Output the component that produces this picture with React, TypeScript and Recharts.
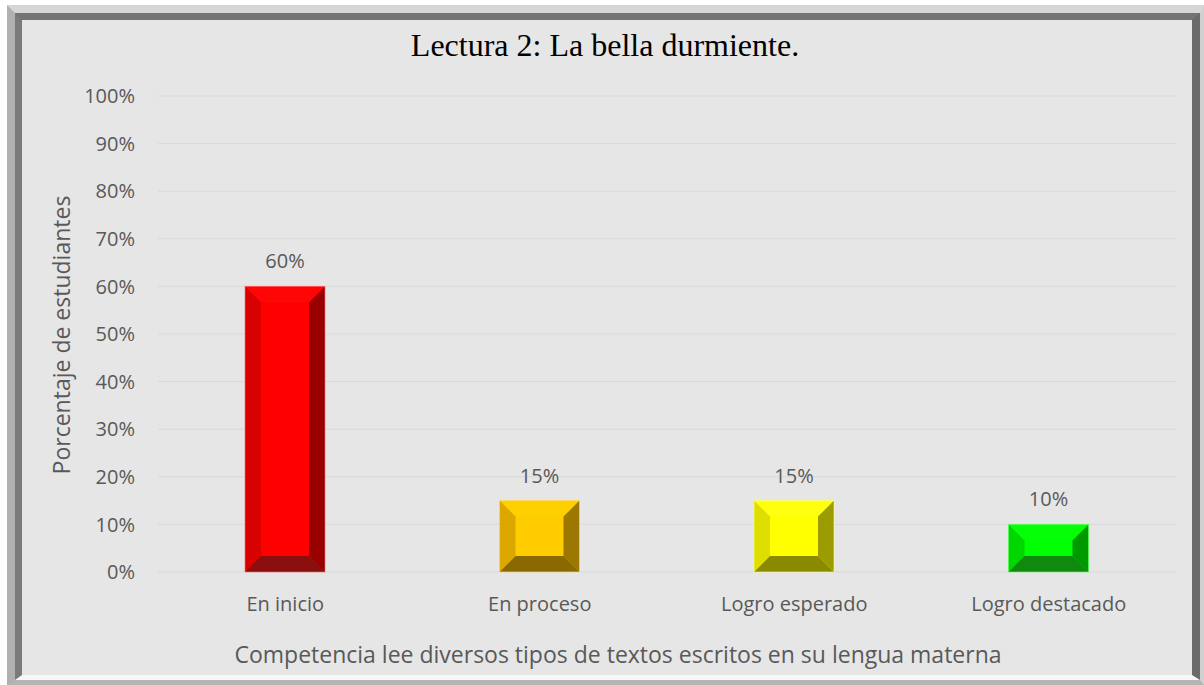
import React from 'react';
import { BarChart, Bar, XAxis, YAxis, CartesianGrid, LabelList } from 'recharts';

const categories = ['En inicio', 'En proceso', 'Logro esperado', 'Logro destacado'];
const percentages = [0.6, 0.15, 0.15, 0.1];
const yTicks = [0, 0.1, 0.2, 0.3, 0.4, 0.5, 0.6, 0.7, 0.8, 0.9, 1];

// colores de cada barra: cara, arriba, izquierda, derecha, abajo
const bevelColors = [
  { face: '#ff0000', top: '#ff0606', left: '#d90000', right: '#990000', bottom: '#8b0e0e', edge: '#ff7070' },
  { face: '#ffcc00', top: '#ffd000', left: '#dca800', right: '#9c7800', bottom: '#8a6a00', edge: '#ffe080' },
  { face: '#ffff00', top: '#ffff10', left: '#dede00', right: '#9c9c00', bottom: '#8a8a00', edge: '#ffff90' },
  { face: '#00ff00', top: '#06ff06', left: '#00d600', right: '#009a00', bottom: '#0f8a0f', edge: '#70ff70' },
];

const data = categories.map((name, i) => ({ name, value: percentages[i] }));

const textColor = '#595959';
const font = '"Open Sans", sans-serif';

const BevelBar = (props: any) => {
  const { x, y, width, height, index } = props;
  if (!height || height <= 0) return null;
  const c = bevelColors[index % bevelColors.length];
  const b = Math.min(16, height / 2, width / 2);
  const x2 = x + width;
  const y2 = y + height;
  return (
    <g>
      <rect x={x} y={y} width={width} height={height} fill={c.face} />
      <polygon points={`${x},${y} ${x2},${y} ${x2 - b},${y + b} ${x + b},${y + b}`} fill={c.top} />
      <polygon points={`${x},${y} ${x + b},${y + b} ${x + b},${y2 - b} ${x},${y2}`} fill={c.left} />
      <polygon points={`${x2},${y} ${x2},${y2} ${x2 - b},${y2 - b} ${x2 - b},${y + b}`} fill={c.right} />
      <polygon points={`${x},${y2} ${x + b},${y2 - b} ${x2 - b},${y2 - b} ${x2},${y2}`} fill={c.bottom} />
      <rect x={x} y={y} width={width} height={height} fill="none" stroke={c.edge} strokeWidth={1} strokeOpacity={0.6} />
    </g>
  );
};

const App: React.FC = () => {
  return (
    <div style={{ position: 'absolute', left: 0, top: 0, width: 1204, height: 685, background: '#ffffff', overflow: 'hidden' }}>
      {/* marco biselado */}
      <div
        style={{
          position: 'absolute',
          left: 7,
          top: 5,
          width: 1197,
          height: 680,
          boxSizing: 'border-box',
          borderStyle: 'solid',
          borderWidth: '8px 4px 5px 8px',
          borderColor: '#d6d6d6 #d0d0d0 #b4b4b4 #b0b0b0',
        }}
      >
        <div
          style={{
            width: '100%',
            height: '100%',
            boxSizing: 'border-box',
            borderStyle: 'solid',
            borderWidth: '7px 8px 5px 7px',
            borderColor: '#747474 #6a6a6a #f6f6f6 #7a7a7a',
            background: '#e6e6e6',
          }}
        />
      </div>
      <div
        style={{
          position: 'absolute',
          left: 605,
          top: 45,
          transform: 'translate(-50%, -50%)',
          whiteSpace: 'nowrap',
          fontFamily: '"Liberation Serif", serif',
          fontSize: 32,
          color: '#000000',
        }}
      >
        Lectura 2: La bella durmiente.
      </div>
      <div
        style={{
          position: 'absolute',
          left: 61,
          top: 335,
          transform: 'translate(-50%, -50%) rotate(-90deg)',
          whiteSpace: 'nowrap',
          fontFamily: font,
          fontSize: 23,
          color: textColor,
        }}
      >
        Porcentaje de estudiantes
      </div>
      <div
        style={{
          position: 'absolute',
          left: 618,
          top: 654,
          transform: 'translate(-50%, -50%)',
          whiteSpace: 'nowrap',
          fontFamily: font,
          fontSize: 23,
          color: textColor,
        }}
      >
        Competencia lee diversos tipos de textos escritos en su lengua materna
      </div>
      <div style={{ position: 'absolute', left: 0, top: 0 }}>
        <BarChart
          width={1204}
          height={685}
          data={data}
          margin={{ top: 96, right: 28, bottom: 83, left: 98 }}
        >
          <CartesianGrid horizontal vertical={false} stroke="#d9d9d9" strokeWidth={1} />
          <XAxis
            dataKey="name"
            axisLine={false}
            tickLine={false}
            height={30}
            tickMargin={19}
            tick={{ fill: textColor, fontSize: 20, fontFamily: font }}
          />
          <YAxis
            width={60}
            domain={[0, 1]}
            ticks={yTicks}
            interval={0}
            axisLine={false}
            tickLine={false}
            tickMargin={17}
            tickFormatter={(v: number) => `${Math.round(v * 100)}%`}
            tick={{ fill: textColor, fontSize: 20, fontFamily: font }}
          />
          <Bar dataKey="value" barSize={80} shape={BevelBar} isAnimationActive={false}>
            <LabelList
              dataKey="value"
              position="top"
              offset={18}
              formatter={(v: any) => `${Math.round(Number(v) * 100)}%`}
              style={{ fill: textColor, fontSize: 20, fontFamily: font }}
            />
          </Bar>
        </BarChart>
      </div>
    </div>
  );
};

export default App;
